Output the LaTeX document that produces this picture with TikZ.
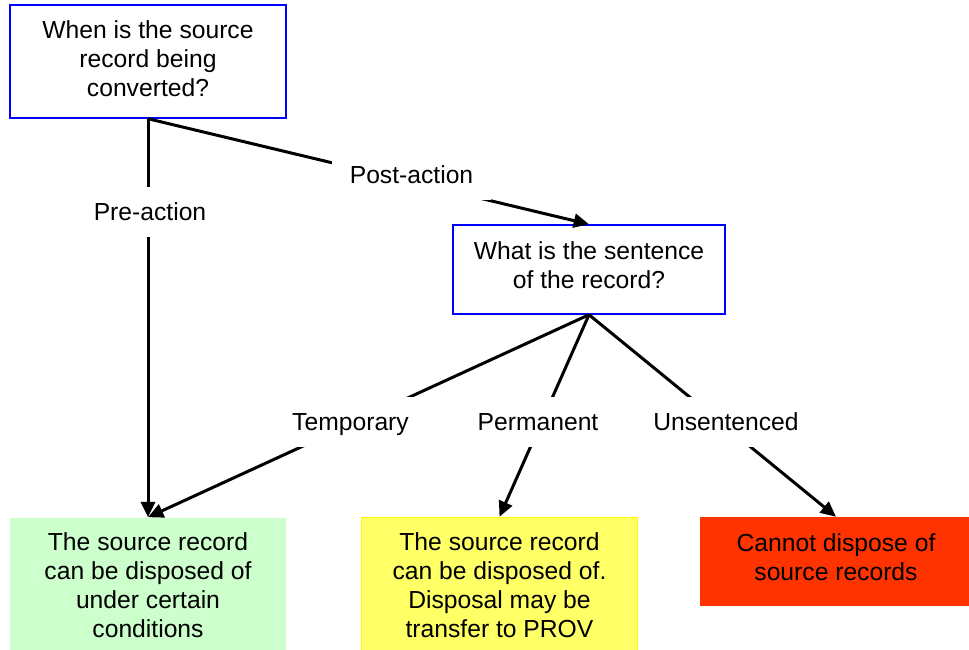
\documentclass[tikz,border=0pt]{standalone}
\usepackage{fontspec}
\setmainfont{Liberation Sans}
\usetikzlibrary{arrows.meta}
\definecolor{qblue}{HTML}{0000FF}
\definecolor{okgreen}{HTML}{CCFFCC}
\definecolor{okyellow}{HTML}{FFFF66}
\definecolor{okyellowline}{HTML}{FFFF00}
\definecolor{nored}{HTML}{FF3300}
\begin{document}
\begin{tikzpicture}[x=0.75pt,y=-0.75pt,
  every node/.style={font=\fontsize{18.5}{21.75}\selectfont, align=center, inner sep=0pt},
  qbox/.style={draw=qblue, line width=1.1pt, fill=white},
  abox/.style={minimum width=207pt, minimum height=101.25pt},
  conn/.style={line width=2.25pt, -{Triangle[length=11.5pt,width=10.5pt]}},
  lbl/.style={fill=white, text height=13.3pt, text depth=0pt, minimum height=37.5pt, inner xsep=13.5pt}]
\fill[white] (0,0) rectangle (969,649);
\useasboundingbox (0,0) rectangle (969,649);

\node[qbox, minimum width=207pt, minimum height=84.75pt, text depth=4pt] (q1) at (148,61.5)
  {When is the source\\record being\\converted?};
\node[qbox, minimum width=204pt, minimum height=66.75pt, text depth=6.5pt] (q2) at (589,269.5)
  {What is the sentence\\of the record?};
\node[abox, fill=okgreen] (green) at (148,585)
  {The source record\\can be disposed of\\under certain\\conditions};
\node[abox, fill=okyellow, draw=okyellowline, line width=1.1pt] (yellow) at (499.5,585)
  {The source record\\can be disposed of.\\Disposal may be\\transfer to PROV};
\node[fill=nored, minimum width=204pt, minimum height=66.75pt, text depth=6pt] (red) at (836,561.5)
  {Cannot dispose of\\source records};

\draw[conn] (q1.south) -- (green.north);
\draw[conn] (q1.south) -- (q2.north);
\draw[conn] (q2.south) -- (green.north);
\draw[conn] (q2.south) -- (yellow.north);
\draw[conn] (q2.south) -- (red.north);

\node[lbl] (lpre) at (150,212) {Pre-action};
\node[lbl] (lpost) at (411.5,174.5) {Post-action};
\node[lbl] (ltemp) at (350.5,421.5) {Temporary};
\node[lbl] (lperm) at (538,421.5) {Permanent};
\node[lbl] (lunsent) at (726,421.5) {Unsentenced};
\end{tikzpicture}
\end{document}
